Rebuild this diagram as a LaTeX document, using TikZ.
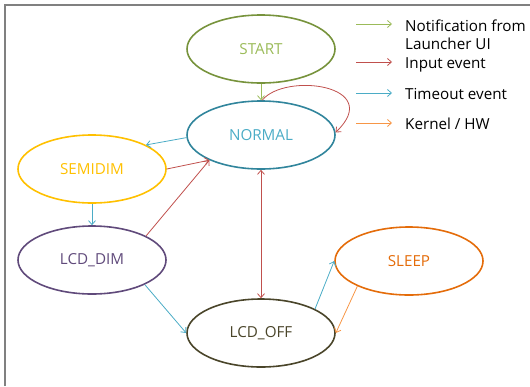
\documentclass[tikz,border=0pt]{standalone}
\usepackage{fontspec}
\setmainfont{Open Sans}
\usetikzlibrary{shapes.geometric,arrows.meta}

\definecolor{startline}{HTML}{77933C}
\definecolor{starttext}{HTML}{9BBB59}
\definecolor{normalline}{HTML}{31859C}
\definecolor{normaltext}{HTML}{4BACC6}
\definecolor{semidimcol}{HTML}{FFC000}
\definecolor{lcddimcol}{HTML}{604A7B}
\definecolor{lcdoffcol}{HTML}{4A452A}
\definecolor{sleepcol}{HTML}{E46C0A}
\definecolor{ntfarrow}{HTML}{9BBB59}
\definecolor{inparrow}{HTML}{C0504D}
\definecolor{tmoarrow}{HTML}{4BACC6}
\definecolor{kerarrow}{HTML}{F79646}

\begin{document}
\begin{tikzpicture}[x=1bp, y=-1bp, >={Straight Barb[length=4bp,width=7bp]}]
\fontsize{15.2bp}{18bp}\selectfont
\def \w {148bp}
\def \h {68bp}
\tikzset{
	state/.style={draw, ellipse, line width=1.6bp, minimum width=\w, minimum height=\h, inner sep=0pt},
	trans/.style={->, line width=0.8bp},
	legend/.style={anchor=base west, inner sep=0pt}
}

\useasboundingbox (0,0) rectangle (530,386);
\draw[gray, line width=2bp] (5,386) -- (5,5) -- (530,5);

% states
\node[state, draw=startline, text=starttext] (start) at (261,49) {START};
\node[state, draw=normalline, text=normaltext] (normal) at (261,135) {NORMAL};
\node[state, draw=semidimcol, text=semidimcol] (semidim) at (92,169) {SEMIDIM};
\node[state, draw=lcddimcol, text=lcddimcol] (lcddim) at (92,260) {LCD\_DIM};
\node[state, draw=lcdoffcol, text=lcdoffcol] (lcdoff) at (261,333) {LCD\_OFF};
\node[state, draw=sleepcol, text=sleepcol] (sleep) at (409,261) {SLEEP};

% transitions
\draw[trans, ntfarrow] (start) -- (normal);
\draw[trans, inparrow] (normal.88) .. controls (285,72) and (385,85) .. (normal.2);
\draw[trans, tmoarrow] (normal.182) -- (semidim.24);
\draw[trans, inparrow] (semidim.0) -- (normal.206);
\draw[trans, inparrow] (lcddim.24) -- (normal.206);
\draw[trans, tmoarrow] (semidim) -- (lcddim);
\draw[trans, <->, inparrow] (normal) -- (lcdoff);
\draw[trans, tmoarrow] (lcddim.335) -- (lcdoff.west);
\draw[trans, tmoarrow] (lcdoff.24) -- (sleep.west);
\draw[trans, kerarrow] (sleep.206) -- (lcdoff.east);

% legend
\foreach \c/\y in {ntfarrow/24, inparrow/62, tmoarrow/93, kerarrow/123}
{
	\coordinate (from\y) at (356,\y);
	\coordinate (to\y) at (392,\y);
	\draw[trans, \c] (from\y) -- (to\y);
}
\node[legend] (notif) at (405,31) {Notification from};
\node[legend] (launcher) at (405,49) {Launcher UI};
\node[legend] (input) at (405,68) {Input event};
\node[legend] (timeout) at (405,99) {Timeout event};
\node[legend] (kernel) at (405,129) {Kernel / HW};
\end{tikzpicture}
\end{document}
